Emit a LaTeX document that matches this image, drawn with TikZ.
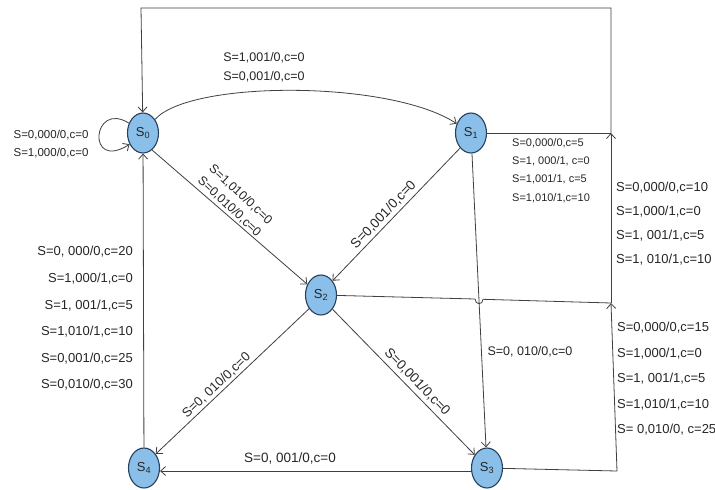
\documentclass[tikz,border=0pt]{standalone}
\usepackage{fontspec}
\setmainfont{Liberation Sans}
\usetikzlibrary{arrows.meta,shapes.geometric}
\definecolor{statefill}{HTML}{8ABFEA}
\definecolor{stateline}{HTML}{27405C}
\definecolor{wirecol}{HTML}{404040}
\definecolor{ink}{HTML}{262626}
\newcommand\sizedfont[2]{\fontsize{#1}{#2}\selectfont}
\tikzset{
  state/.style={ellipse, draw=stateline, fill=statefill, line width=1.1pt,
    minimum width=31pt, minimum height=40pt, inner sep=0pt,
    text=ink, font=\sizedfont{13}{15}},
  link/.style={draw=wirecol, line width=0.8pt},
  arr/.style={link, -{Straight Barb[length=5pt,width=9pt]}},
  lbl/.style={text=ink, inner sep=0pt},
}
\begin{document}
\begin{tikzpicture}[x=1pt,y=-1pt]
\fill[white] (0,0) rectangle (715,490);
\useasboundingbox (0,0) rectangle (715,490);

% states
\node[state] (s0) at (143,133) {S\textsubscript{0}};
\node[state] (s1) at (471,133) {S\textsubscript{1}};
\node[state] (s2) at (321,295) {S\textsubscript{2}};
\node[state] (s3) at (487,468) {S\textsubscript{3}};
\node[state] (s4) at (144,468) {S\textsubscript{4}};

% corners of the return wire on the right and along the top
\coordinate (j1) at (611,133);
\coordinate (j2) at (611,303);
\coordinate (c3) at (617,471);
\coordinate (t1) at (611,8);
\coordinate (t0) at (141,8);
\coordinate (hopL) at (475,299);
\coordinate (hopR) at (483,299.3);

% transitions
\draw[arr] (s0) .. controls (190,80) and (390,80) .. (s1);
\draw[arr] (s0.145) .. controls (92,100) and (86,172) .. (s0.220);
\draw[arr] (s0.-62) -- (s2.142);
\draw[arr] (s1.234) -- (s2.51);
\draw[arr] (s1) -- (s3);
\draw[arr] (s2.229) -- (s4.50);
\draw[arr] (s2.309) -- (s3.133);
\draw[arr] ([yshift=-3pt]s3.west) -- ([yshift=-3pt]s4.east);
\draw[arr] (s4) -- (s0);

% returns to S0 over the shared wire
\draw[link] (s1) -- (j1);
\draw[link] (s2) -- (hopL) .. controls +(0,6) and +(0,6) .. (hopR) -- (j2);
\draw[arr] (s3) -- (c3) -- (j2);
\draw[arr] (j2) -- (j1);
\draw[arr] (j1) -- (t1) -- (t0) -- (s0);

% labels
\node[lbl, align=center, font=\sizedfont{11.5}{18}] (lloop) at (51,144)
  {S=0,000/0,c=0\\S=1,000/0,c=0};
\node[lbl, align=center, font=\sizedfont{12.5}{19}] (l01) at (264,67.5)
  {S=1,001/0,c=0\\S=0,001/0,c=0};
\node[lbl, align=left, anchor=west, font=\sizedfont{11}{18.3}] (l10) at (512,170.5)
  {S=0,000/0,c=5\\S=1, 000/1, c=0\\S=1,001/1, c=5\\S=1,010/1,c=10};
\node[lbl, align=left, anchor=west, font=\sizedfont{13}{24}] (l20) at (616,224)
  {S=0,000/0,c=10\\S=1,000/1,c=0\\S=1, 001/1,c=5\\S=1, 010/1,c=10};
\node[lbl, align=left, anchor=west, font=\sizedfont{13}{25.5}] (l30) at (617,379)
  {S=0,000/0,c=15\\S=1,000/1,c=0\\S=1, 001/1,c=5\\S=1,010/1,c=10\\S= 0,010/0, c=25};
\node[lbl, align=right, anchor=east, font=\sizedfont{13}{26.6}] (l40) at (133,318.5)
  {S=0, 000/0,c=20\\S=1,000/1,c=0\\S=1, 001/1,c=5\\S=1,010/1,c=10\\S=0,001/0,c=25\\S=0,010/0,c=30};
\node[lbl, font=\sizedfont{12.5}{15}] (l13) at (530,352) {S=0, 010/0,c=0};
\node[lbl, font=\sizedfont{13.5}{15}] (l34) at (290,458) {S=0, 001/0,c=0};
\node[lbl, rotate=46.5, font=\sizedfont{13.5}{15}] (l12) at (383.5,214.8) {S=0,001/0,c=0};
\node[lbl, rotate=-43, align=center, font=\sizedfont{12.5}{16.5}] (l02) at (235,200.5)
  {S=1,010/0,c=0\\S=0,010/0,c=0};
\node[lbl, rotate=43.5, font=\sizedfont{13}{15}] (l24) at (216.5,385.4) {S=0, 010/0,c=0};
\node[lbl, rotate=-46, font=\sizedfont{13.5}{15}] (l23) at (417.2,381.9) {S=0,001/0,c=0};
\end{tikzpicture}
\end{document}
